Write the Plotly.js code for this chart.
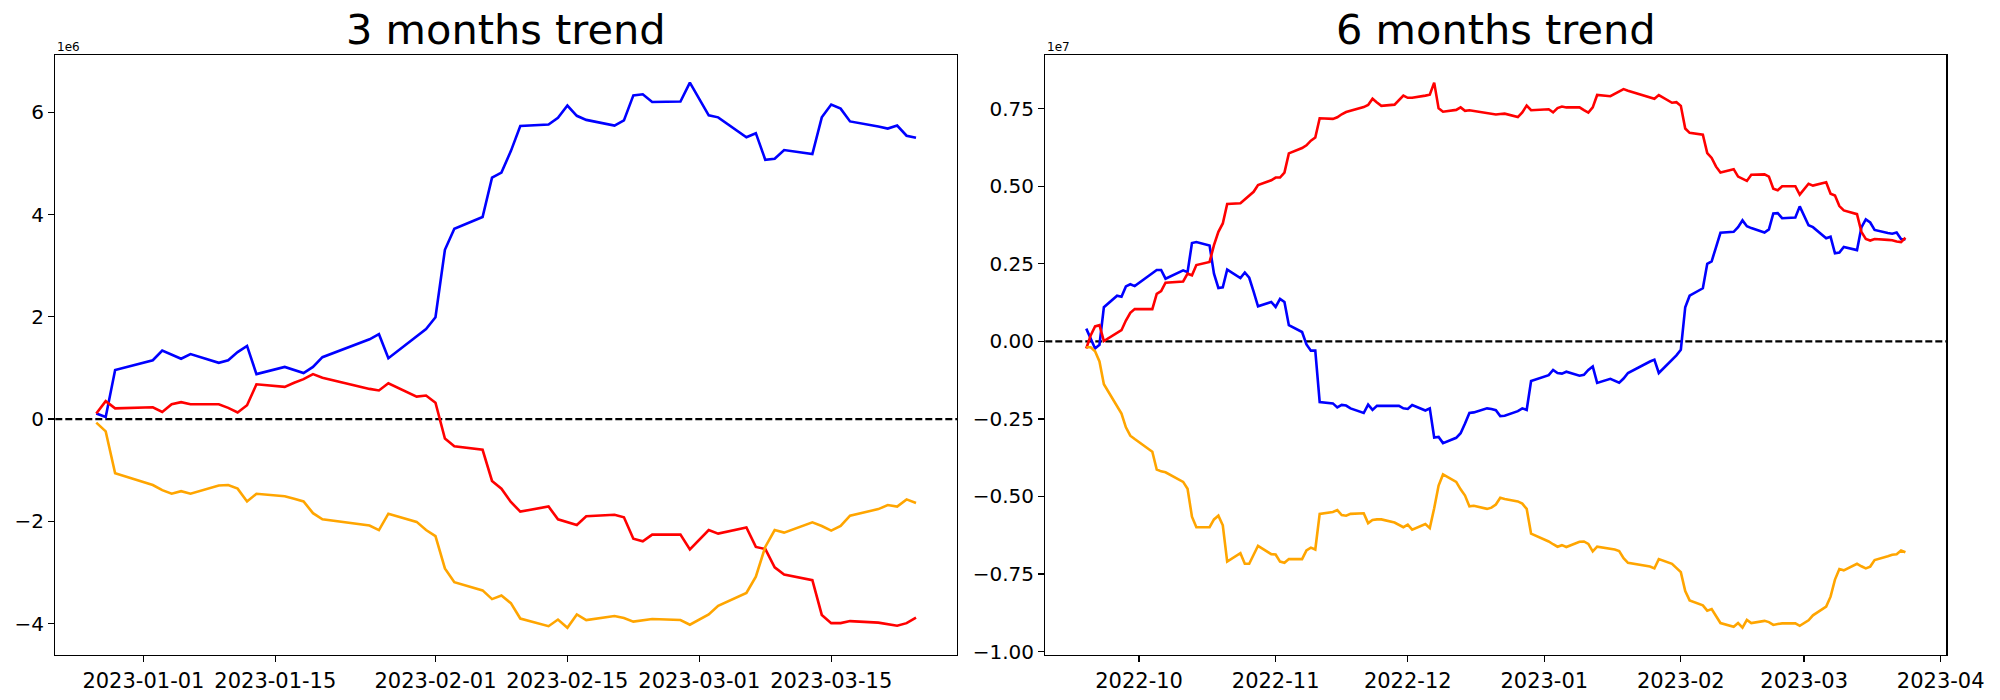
<!DOCTYPE html>
<html>
<head>
<meta charset="utf-8">
<script src="https://cdn.plot.ly/plotly-3.0.1.min.js"></script>
<style>html,body{margin:0;padding:0;background:#fff;}#chart{width:2000px;height:700px;}</style>
</head>
<body>
<div id="chart"></div>
<script>
// ---- 3 months (values in units of 1e6) ----
const dates3m = ['2022-12-27','2022-12-28','2022-12-29','2023-01-02','2023-01-03','2023-01-04','2023-01-05','2023-01-06',
'2023-01-09','2023-01-10','2023-01-11','2023-01-12','2023-01-13','2023-01-16','2023-01-17','2023-01-18','2023-01-19','2023-01-20',
'2023-01-25','2023-01-26','2023-01-27','2023-01-30','2023-01-31','2023-02-01','2023-02-02','2023-02-03',
'2023-02-06','2023-02-07','2023-02-08','2023-02-09','2023-02-10','2023-02-13','2023-02-14','2023-02-15','2023-02-16','2023-02-17',
'2023-02-20','2023-02-21','2023-02-22','2023-02-23','2023-02-24','2023-02-27','2023-02-28','2023-03-02','2023-03-03',
'2023-03-06','2023-03-07','2023-03-08','2023-03-09','2023-03-10','2023-03-13','2023-03-14','2023-03-15','2023-03-16','2023-03-17',
'2023-03-20','2023-03-21','2023-03-22','2023-03-23','2023-03-24'];
const blue3m = [0.11,0.04,0.96,1.15,1.34,1.26,1.18,1.27,1.10,1.15,1.31,1.43,0.88,1.02,0.96,0.90,1.02,1.21,
1.56,1.66,1.19,1.62,1.76,1.99,3.31,3.72,3.95,4.72,4.82,5.24,5.73,5.76,5.89,6.13,5.93,5.85,
5.74,5.84,6.33,6.35,6.20,6.21,6.58,5.94,5.90,5.51,5.59,5.07,5.09,5.26,5.18,5.90,6.15,6.07,5.82,
5.72,5.68,5.74,5.54,5.50];
const red3m = [0.11,0.35,0.21,0.23,0.14,0.29,0.33,0.29,0.29,0.22,0.13,0.27,0.68,0.63,0.71,0.78,0.88,0.81,
0.59,0.56,0.70,0.44,0.46,0.32,-0.38,-0.53,-0.60,-1.21,-1.36,-1.62,-1.81,-1.71,-1.96,-2.02,-2.07,-1.90,
-1.87,-1.92,-2.34,-2.39,-2.26,-2.26,-2.55,-2.17,-2.24,-2.12,-2.50,-2.54,-2.90,-3.04,-3.15,-3.83,-3.99,-3.99,-3.95,
-3.98,-4.01,-4.04,-3.99,-3.88];
const orange3m = [-0.07,-0.24,-1.06,-1.29,-1.39,-1.46,-1.41,-1.46,-1.30,-1.29,-1.36,-1.61,-1.46,-1.51,-1.56,-1.61,-1.84,-1.96,
-2.08,-2.17,-1.85,-2.01,-2.17,-2.29,-2.92,-3.19,-3.35,-3.52,-3.45,-3.60,-3.90,-4.05,-3.92,-4.08,-3.82,-3.93,
-3.85,-3.89,-3.96,-3.93,-3.91,-3.93,-4.02,-3.82,-3.65,-3.40,-3.08,-2.50,-2.17,-2.22,-2.02,-2.09,-2.18,-2.09,-1.89,
-1.76,-1.68,-1.71,-1.57,-1.64];

// ---- 6 months (values in units of 1e7) ----
const dates6m = ['2022-09-19','2022-09-20','2022-09-21','2022-09-22','2022-09-23','2022-09-26','2022-09-27','2022-09-28','2022-09-29','2022-09-30',
'2022-10-04','2022-10-05','2022-10-06','2022-10-07','2022-10-11','2022-10-12','2022-10-13','2022-10-14','2022-10-17','2022-10-18','2022-10-19','2022-10-20','2022-10-21',
'2022-10-24','2022-10-25','2022-10-26','2022-10-27','2022-10-28','2022-10-31',
'2022-11-01','2022-11-02','2022-11-03','2022-11-04','2022-11-07','2022-11-08','2022-11-09','2022-11-10','2022-11-11','2022-11-14','2022-11-15','2022-11-16','2022-11-17','2022-11-18',
'2022-11-21','2022-11-22','2022-11-23','2022-11-24','2022-11-25','2022-11-28','2022-11-29','2022-11-30',
'2022-12-01','2022-12-02','2022-12-05','2022-12-06','2022-12-07','2022-12-08','2022-12-09','2022-12-12','2022-12-13','2022-12-14','2022-12-15','2022-12-16',
'2022-12-19','2022-12-20','2022-12-21','2022-12-22','2022-12-23','2022-12-26','2022-12-27','2022-12-28','2022-12-29',
'2023-01-02','2023-01-03','2023-01-04','2023-01-05','2023-01-06','2023-01-09','2023-01-10','2023-01-11','2023-01-12','2023-01-13',
'2023-01-16','2023-01-17','2023-01-18','2023-01-19','2023-01-20','2023-01-25','2023-01-26','2023-01-27','2023-01-30','2023-01-31',
'2023-02-01','2023-02-02','2023-02-03','2023-02-06','2023-02-07','2023-02-08','2023-02-09','2023-02-10','2023-02-13','2023-02-14','2023-02-15','2023-02-16','2023-02-17',
'2023-02-20','2023-02-21','2023-02-22','2023-02-23','2023-02-24','2023-02-27','2023-02-28',
'2023-03-02','2023-03-03','2023-03-06','2023-03-07','2023-03-08','2023-03-09','2023-03-10','2023-03-13','2023-03-14','2023-03-15','2023-03-16','2023-03-17',
'2023-03-20','2023-03-21','2023-03-22','2023-03-23','2023-03-24'];
const blue6m = [0.041,0.007,-0.023,-0.011,0.110,0.147,0.144,0.177,0.184,0.178,
0.219,0.230,0.230,0.202,0.229,0.223,0.317,0.320,0.309,0.218,0.172,0.174,0.231,0.204,0.222,0.205,0.160,0.113,0.127,
0.111,0.137,0.127,0.052,0.030,-0.010,-0.030,-0.030,-0.196,-0.200,-0.213,-0.205,-0.207,-0.216,-0.231,-0.204,-0.221,-0.208,-0.208,-0.208,-0.208,-0.216,
-0.218,-0.205,-0.223,-0.216,-0.310,-0.308,-0.328,-0.311,-0.296,-0.265,-0.231,-0.229,-0.216,-0.218,-0.222,-0.241,-0.240,-0.225,-0.216,-0.221,-0.128,
-0.109,-0.092,-0.102,-0.104,-0.098,-0.111,-0.108,-0.092,-0.081,-0.134,-0.121,-0.127,-0.133,-0.120,-0.102,-0.065,-0.059,-0.102,-0.059,-0.045,
-0.027,0.110,0.147,0.171,0.250,0.258,0.304,0.350,0.353,0.368,0.390,0.371,0.365,0.351,0.361,0.412,0.413,0.397,0.399,0.435,
0.374,0.368,0.332,0.337,0.284,0.286,0.304,0.294,0.367,0.393,0.383,0.359,0.349,0.347,0.351,0.330,0.328];
const red6m = [-0.023,0.019,0.048,0.052,0.001,0.028,0.036,0.067,0.092,0.104,
0.104,0.153,0.162,0.189,0.193,0.218,0.213,0.246,0.256,0.310,0.353,0.380,0.443,0.445,0.458,0.470,0.482,0.504,0.519,
0.528,0.528,0.544,0.606,0.623,0.632,0.647,0.657,0.719,0.717,0.722,0.732,0.739,0.743,0.755,0.762,0.782,0.770,0.759,0.763,0.778,0.792,
0.785,0.785,0.792,0.795,0.834,0.751,0.740,0.746,0.754,0.743,0.745,0.743,0.737,0.734,0.731,0.733,0.734,0.723,0.738,0.760,0.745,
0.748,0.738,0.752,0.757,0.754,0.754,0.745,0.737,0.754,0.794,0.790,0.797,0.805,0.813,0.808,0.788,0.782,0.794,0.769,0.771,
0.759,0.686,0.672,0.666,0.607,0.591,0.563,0.544,0.555,0.531,0.525,0.517,0.537,0.538,0.531,0.492,0.487,0.500,0.500,0.473,
0.508,0.502,0.513,0.476,0.470,0.436,0.422,0.410,0.353,0.330,0.325,0.330,0.327,0.326,0.322,0.320,0.334];
const orange6m = [-0.019,-0.019,-0.032,-0.065,-0.138,-0.207,-0.233,-0.277,-0.304,-0.315,
-0.356,-0.413,-0.419,-0.422,-0.453,-0.475,-0.565,-0.599,-0.599,-0.574,-0.562,-0.593,-0.710,-0.683,-0.717,-0.717,-0.688,-0.659,-0.686,
-0.687,-0.710,-0.714,-0.702,-0.702,-0.674,-0.665,-0.671,-0.556,-0.550,-0.544,-0.560,-0.562,-0.556,-0.554,-0.586,-0.576,-0.574,-0.574,-0.584,-0.591,-0.599,
-0.591,-0.607,-0.589,-0.602,-0.538,-0.465,-0.429,-0.453,-0.477,-0.497,-0.532,-0.530,-0.540,-0.536,-0.526,-0.504,-0.508,-0.516,-0.523,-0.540,-0.620,
-0.645,-0.654,-0.662,-0.657,-0.663,-0.646,-0.645,-0.653,-0.677,-0.662,-0.669,-0.671,-0.676,-0.699,-0.714,-0.726,-0.732,-0.702,-0.717,-0.731,
-0.744,-0.805,-0.835,-0.851,-0.868,-0.863,-0.884,-0.908,-0.920,-0.908,-0.923,-0.898,-0.908,-0.901,-0.905,-0.914,-0.911,-0.909,-0.909,-0.917,
-0.899,-0.883,-0.855,-0.823,-0.768,-0.734,-0.738,-0.717,-0.725,-0.732,-0.726,-0.705,-0.693,-0.688,-0.686,-0.674,-0.680];

// ---- ticks ----
const xTicks3m = ['2023-01-01','2023-01-15','2023-02-01','2023-02-15','2023-03-01','2023-03-15'];
const xTickText3m = ['2023-01-01','2023-01-15','2023-02-01','2023-02-15','2023-03-01','2023-03-15'];
const yTicks3m = [-4,-2,0,2,4,6];
const yTickText3m = ['\u22124','\u22122','0','2','4','6'];
const xTicks6m = ['2022-10-01','2022-11-01','2022-12-01','2023-01-01','2023-02-01','2023-03-01','2023-04-01'];
const xTickText6m = ['2022-10','2022-11','2022-12','2023-01','2023-02','2023-03','2023-04'];
const yTicks6m = [-1,-0.75,-0.5,-0.25,0,0.25,0.5,0.75];
const yTickText6m = ['\u22121.00','\u22120.75','\u22120.50','\u22120.25','0.00','0.25','0.50','0.75'];

(function () {
const W = 2000, H = 700;
const FONT = 'DejaVu Sans, Liberation Sans, sans-serif';
const colors = {blue:'#0000ff', red:'#ff0000', orange:'#ffa500'};

function line(x, y, color, xa, ya) {
  return {x:x, y:y, type:'scatter', mode:'lines', line:{color:color, width:2.6},
          xaxis:xa, yaxis:ya, hoverinfo:'skip', showlegend:false};
}
const traces = [
  line(dates3m, blue3m, colors.blue, 'x', 'y'),
  line(dates3m, red3m, colors.red, 'x', 'y'),
  line(dates3m, orange3m, colors.orange, 'x', 'y'),
  line(dates6m, blue6m, colors.blue, 'x2', 'y2'),
  line(dates6m, red6m, colors.red, 'x2', 'y2'),
  line(dates6m, orange6m, colors.orange, 'x2', 'y2')
];

const yTop = 1 - 55.3/H, yBottom = 1 - 655/H;
const axBase = {showline:true, mirror:true, linecolor:'#000', linewidth:1.3, ticks:'outside', ticklen:6,
  tickwidth:1.3, tickcolor:'#000', showgrid:false, zeroline:false, tickfont:{family:FONT, size:20, color:'#000'},
  tickmode:'array', fixedrange:true};
const xFont = {tickfont:{family:FONT, size:21, color:'#000'}};

const layout = {
  width:W, height:H, margin:{l:0, r:0, t:0, b:0}, paper_bgcolor:'#fff', plot_bgcolor:'#fff',
  showlegend:false, font:{family:FONT, color:'#000'},
  xaxis: Object.assign({}, axBase, xFont, {type:'date', domain:[55.3/W, 957/W], anchor:'y',
    range:['2022-12-22 15:36','2023-03-28 08:24'], tickvals:xTicks3m, ticktext:xTickText3m}),
  yaxis: Object.assign({}, axBase, {domain:[yBottom, yTop], anchor:'x', range:[-4.613, 7.113],
    tickvals:yTicks3m, ticktext:yTickText3m}),
  xaxis2: Object.assign({}, axBase, xFont, {type:'date', domain:[1045.3/W, 1946.4/W], anchor:'y2',
    range:['2022-09-09 16:48','2023-04-02 07:12'], tickvals:xTicks6m, ticktext:xTickText6m}),
  yaxis2: Object.assign({}, axBase, {domain:[yBottom, yTop], anchor:'x2', range:[-1.011, 0.922],
    tickvals:yTicks6m, ticktext:yTickText6m}),
  shapes: [
    {type:'line', xref:'x domain', yref:'y', x0:0, x1:1, y0:0, y1:0, line:{color:'#000', width:2.2, dash:'7px,3px'}, layer:'below'},
    {type:'line', xref:'x2 domain', yref:'y2', x0:0, x1:1, y0:0, y1:0, line:{color:'#000', width:2.2, dash:'7px,3px'}, layer:'below'}
  ],
  annotations: [
    {text:'3 months trend', xref:'paper', yref:'paper', x:506/W, y:1-30/H, xanchor:'center', yanchor:'middle',
     showarrow:false, font:{family:FONT, size:41.5, color:'#000'}},
    {text:'6 months trend', xref:'paper', yref:'paper', x:1496/W, y:1-30/H, xanchor:'center', yanchor:'middle',
     showarrow:false, font:{family:FONT, size:41.5, color:'#000'}},
    {text:'1e6', xref:'paper', yref:'paper', x:55.3/W, y:1-47/H, xanchor:'left', yanchor:'middle',
     showarrow:false, font:{family:FONT, size:12, color:'#000'}},
    {text:'1e7', xref:'paper', yref:'paper', x:1045.3/W, y:1-47/H, xanchor:'left', yanchor:'middle',
     showarrow:false, font:{family:FONT, size:12, color:'#000'}}
  ]
};

Plotly.newPlot('chart', traces, layout, {staticPlot:true, displayModeBar:false});
})();
</script>
</body>
</html>
